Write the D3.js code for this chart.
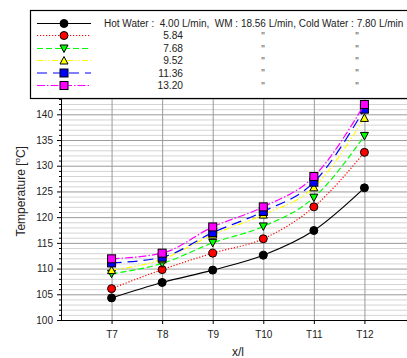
<!DOCTYPE html>
<html>
<head>
<meta charset="utf-8">
<script src="https://cdn.jsdelivr.net/npm/d3@7"></script>
<style>
  body { margin: 0; background: #fff; }
  svg { display: block; font-family: "Liberation Sans", Arial, sans-serif; }
</style>
</head>
<body>
<div id="chart"></div>
<script>
(function()
{
    // data
    const positions = ["T7", "T8", "T9", "T10", "T11", "T12"];
    const flowLabels = ["4.00", "5.84", "7.68", "9.52", "11.36", "13.20"];
    const hot400  = [104.3, 107.3, 109.7, 112.6, 117.4, 125.7];
    const hot584  = [106.1, 109.8, 113.0, 115.8, 122.0, 132.6];
    const hot768  = [109.0, 111.0, 115.0, 118.2, 123.8, 135.8];
    const hot952  = [109.7, 111.8, 116.6, 120.5, 125.8, 139.3];
    const hot1136 = [111.1, 112.2, 117.0, 121.1, 126.8, 141.0];
    const hot1320 = [111.9, 113.0, 118.1, 122.0, 127.9, 141.9];
    const yTicks = [100, 105, 110, 115, 120, 125, 130, 135, 140];

    const W = 407, H = 358;
    const left = 61, right = 415, bottom = 320, top = 88.6;

    const styles = [
        {color: "#000000", dash: null,              marker: "circle"},
        {color: "#ff0000", dash: "1.2,1.8",         marker: "circle"},
        {color: "#00ff00", dash: "6,3",             marker: "down"},
        {color: "#ffff00", dash: "6,2,1.5,2,1.5,2", marker: "up"},
        {color: "#0000ff", dash: "10,6",            marker: "square"},
        {color: "#ff00ff", dash: "8,2,1.5,2",       marker: "square"}
    ];
    const series = [hot400, hot584, hot768, hot952, hot1136, hot1320];

    var svg = d3.select("#chart").append("svg")
        .attr("width", W)
        .attr("height", H);

    var x = d3.scaleLinear().domain([6, 13]).range([left, right]);
    var y = d3.scaleLinear().domain([100, 145]).range([bottom, top]);

    // gridlines, 1 unit apart, darker every 5
    var minor = d3.range(100, 146, 1);
    svg.append("g").selectAll("line").data(minor).enter().append("line")
        .attr("x1", left).attr("x2", right)
        .attr("y1", d => y(d) + 0.5).attr("y2", d => y(d) + 0.5)
        .attr("stroke", d => d % 5 === 0 ? "#9a9a9a" : "#d4d4d4")
        .attr("stroke-width", 1);

    // vertical gridlines
    svg.append("g").selectAll("line").data(positions).enter().append("line")
        .attr("x1", (d, i) => x(i + 7) + 0.5).attr("x2", (d, i) => x(i + 7) + 0.5)
        .attr("y1", top).attr("y2", bottom)
        .attr("stroke", "#9a9a9a");

    // left axis
    var yAxis = d3.axisLeft(y).tickValues(yTicks).tickSize(4).tickPadding(4);
    var gy = svg.append("g").attr("transform", "translate(" + left + ",0)").call(yAxis);
    gy.select(".domain").remove();
    gy.append("line").attr("x1", 0.5).attr("x2", 0.5).attr("y1", top).attr("y2", bottom).attr("stroke", "#000");
    gy.selectAll(".tick text").attr("font-size", 10).attr("fill", "#222")
        .attr("font-family", "Liberation Sans, Arial, sans-serif");
    gy.selectAll("line.minor").data(minor.filter(d => d % 5 !== 0)).enter().append("line")
        .attr("class", "minor")
        .attr("x1", -2).attr("x2", 0)
        .attr("y1", d => y(d) + 0.5).attr("y2", d => y(d) + 0.5)
        .attr("stroke", "#000");

    // bottom axis
    var xAxis = d3.axisBottom(x).tickValues([7, 8, 9, 10, 11, 12])
        .tickFormat(d => positions[d - 7]).tickSize(4).tickPadding(7);
    var gx = svg.append("g").attr("transform", "translate(0," + bottom + ")").call(xAxis);
    gx.select(".domain").attr("d", "M" + left + ",0.5H" + right);
    gx.selectAll(".tick text").attr("font-size", 10).attr("fill", "#222")
        .attr("font-family", "Liberation Sans, Arial, sans-serif");

    // axis titles
    var yt = svg.append("text")
        .attr("transform", "translate(25," + ((top + bottom) / 2 - 13) + ") rotate(-90)")
        .attr("text-anchor", "middle")
        .attr("font-size", 12).attr("fill", "#222");
    yt.append("tspan").text("Temperature [");
    yt.append("tspan").attr("dy", -5).attr("font-size", 8).text("o");
    yt.append("tspan").attr("dy", 5).text("C]");

    svg.append("text").attr("x", 238).attr("y", 356)
        .attr("text-anchor", "middle").attr("font-size", 12).attr("fill", "#222")
        .text("x/l");

    var line = d3.line()
        .x((d, i) => x(i + 7))
        .y(d => y(d))
        .curve(d3.curveMonotoneX);

    function drawMarker(g, kind, cx, cy, color) {
        if (kind === "circle") {
            g.append("circle").attr("cx", cx).attr("cy", cy).attr("r", 4)
                .attr("fill", color).attr("stroke", "#000");
        } else if (kind === "square") {
            g.append("rect").attr("x", cx - 4).attr("y", cy - 4)
                .attr("width", 8).attr("height", 8)
                .attr("fill", color).attr("stroke", "#000");
        } else {
            var s = kind === "up" ? -1 : 1;
            var p = [[cx - 4, cy - 3.5 * s], [cx + 4, cy - 3.5 * s], [cx, cy + 4 * s]];
            g.append("path").attr("d", "M" + p.join("L") + "Z")
                .attr("fill", color).attr("stroke", "#000");
        }
    }

    series.forEach(function(vals, k) {
        var st = styles[k];
        var g = svg.append("g");
        g.append("path").datum(vals)
            .attr("d", line)
            .attr("fill", "none")
            .attr("stroke", st.color)
            .attr("stroke-width", 1.2)
            .attr("stroke-dasharray", st.dash);
        vals.forEach(function(v, i) {
            drawMarker(g, st.marker, x(i + 7), y(v), st.color);
        });
    });

    // legend
    var lg = svg.append("g");
    lg.append("rect").attr("x", 30.5).attr("y", 10.5).attr("width", 400).attr("height", 88)
        .attr("fill", "#fff").attr("stroke", "#000").attr("stroke-width", 1.2);
    var rowY = [23.5, 35.5, 48.5, 60.5, 73, 85.5];
    styles.forEach(function(st, k) {
        lg.append("line").attr("x1", 37).attr("x2", 91)
            .attr("y1", rowY[k]).attr("y2", rowY[k])
            .attr("stroke", st.color).attr("stroke-width", 1.2)
            .attr("stroke-dasharray", st.dash);
        drawMarker(lg, st.marker, 64, rowY[k], st.color);
        if (k === 0) {
            lg.append("text").attr("x", 104).attr("y", rowY[k] + 3.5)
                .attr("font-size", 10).attr("fill", "#222").attr("xml:space", "preserve")
                .text("Hot Water :  " + flowLabels[0] + " L/min,  WM : 18.56 L/min, Cold Water : 7.80 L/min");
        } else {
            lg.append("text").attr("x", 183).attr("y", rowY[k] + 3.5)
                .attr("text-anchor", "end").attr("font-size", 10.2).attr("fill", "#222")
                .text(flowLabels[k]);
            lg.append("text").attr("x", 263).attr("y", rowY[k] + 4)
                .attr("text-anchor", "middle").attr("font-size", 10).attr("fill", "#555").text("\"");
            lg.append("text").attr("x", 357).attr("y", rowY[k] + 4)
                .attr("text-anchor", "middle").attr("font-size", 10).attr("fill", "#555").text("\"");
        }
    });
})();
</script>
</body>
</html>
